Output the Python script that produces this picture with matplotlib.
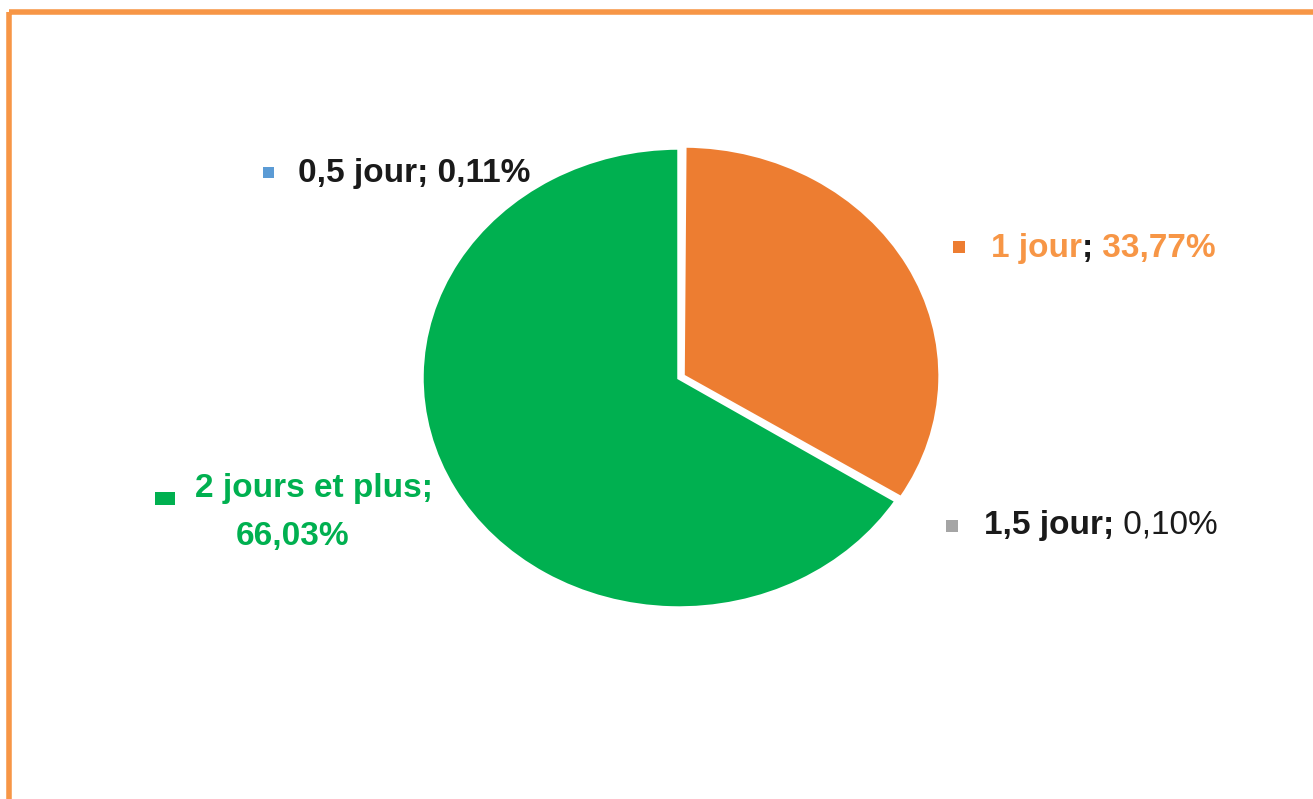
import matplotlib
matplotlib.use("Agg")
import matplotlib.pyplot as plt
from matplotlib.patches import Rectangle

categories = ["0,5 jour", "1 jour", "1,5 jour", "2 jours et plus"]
values = [0.11, 33.77, 0.10, 66.03]
pct_labels = ["0,11%", "33,77%", "0,10%", "66,03%"]
colors = ["#5B9BD5", "#ED7D31", "#A5A5A5", "#00B050"]

W, H = 1313, 799
fig = plt.figure(figsize=(W / 100, H / 100), dpi=100)
fig.patch.set_facecolor("white")

# pie axes (elliptical, as in the reference)
px0, px1, py0, py1 = 422, 936, 148, 608
pax = fig.add_axes([px0 / W, 1 - py1 / H, (px1 - px0) / W, (py1 - py0) / H])
pax.pie(values, colors=colors, startangle=90, counterclock=False,
        explode=[0, 0.018, 0, 0],
        wedgeprops=dict(edgecolor="white", linewidth=2.5))
pax.set_aspect("auto")
pax.set_xlim(-1, 1)
pax.set_ylim(-1, 1)
pax.axis("off")

# overlay axes in pixel coordinates
ov = fig.add_axes([0, 0, 1, 1])
ov.set_xlim(0, W)
ov.set_ylim(H, 0)
ov.axis("off")
ov.patch.set_alpha(0)

# frame
ov.add_patch(Rectangle((8.5, 11.5), W + 20, H + 20, fill=False,
                       edgecolor="#F79646", linewidth=4, clip_on=False))

FONT = "Liberation Sans"
FS = 24
renderer = fig.canvas.get_renderer()


def seq_text(x, y, pieces):
    for txt, col, wt in pieces:
        t = ov.text(x, y, txt, color=col, fontsize=FS, fontweight=wt,
                    family=FONT, va="baseline", ha="left")
        bb = t.get_window_extent(renderer=renderer)
        x = bb.x1


def marker(x0, y0, w, h, col):
    ov.add_patch(Rectangle((x0, y0), w, h, facecolor=col, edgecolor="none"))


LBL_ORANGE = "#F79646"

# 0,5 jour
marker(263, 167, 11, 11, colors[0])
seq_text(298, 182, [(categories[0] + "; " + pct_labels[0], "#1a1a1a", "bold")])

# 1 jour
marker(953, 241, 12, 12, colors[1])
seq_text(991, 257, [(categories[1], LBL_ORANGE, "bold"), (";", "#1a1a1a", "bold"),
                    (" " + pct_labels[1], LBL_ORANGE, "bold")])

# 1,5 jour
marker(946, 520, 12, 12, colors[2])
seq_text(984, 534, [(categories[2], "#1a1a1a", "bold"), (";", "#1a1a1a", "bold"),
                    (" " + pct_labels[2], "#1a1a1a", "normal")])

# 2 jours et plus
marker(155, 492, 20, 13, colors[3])
ov.text(195, 497, categories[3] + ";", color=colors[3], fontsize=FS,
        fontweight="bold", family=FONT, va="baseline", ha="left")
ov.text(293, 545, pct_labels[3], color=colors[3], fontsize=FS, fontweight="bold",
        family=FONT, va="baseline", ha="center")

fig.savefig("out.png", dpi=100, facecolor="white")
